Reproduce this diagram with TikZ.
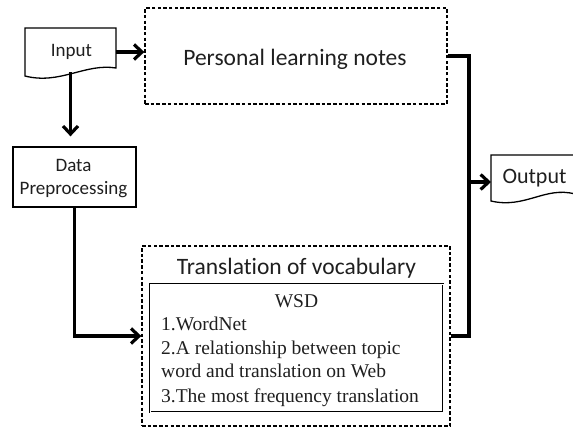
\documentclass[tikz,border=0pt]{standalone}
\usepackage{fontspec}
\setmainfont{Carlito}[Ligatures=NoCommon]
\newfontfamily\listfont{Liberation Serif}
\usetikzlibrary{arrows.meta,calc}

\tikzset{
  x=1pt, y=-1pt,
  boxline/.style={line width=1.3pt, draw=black},
  dashbox/.style={line width=1.3pt, draw=black, dash pattern=on 3.5pt off 2.2pt},
  conn/.style={line width=3.6pt, draw=black, line join=miter,
    -{Straight Barb[length=8pt,width=15pt,line width=3.2pt]}},
  plainconn/.style={line width=3.6pt, draw=black, line join=miter},
  label/.style={text=black!88, inner sep=0pt},
}

\begin{document}
\begin{tikzpicture}
\useasboundingbox (0,0) rectangle (573,429);

% document-shaped input box
\draw[boxline] (25,28) -- (116,28) -- (116,68)
  .. controls (85,63) and (60,85) .. (25,76) -- cycle;
\node[minimum width=91pt, minimum height=44pt, inner sep=0pt] (input) at (70.5,50) {};
\node[label, anchor=base, font=\fontsize{19}{22}\selectfont] (inputtext) at (71.5,56) {Input};

% personal notes box
\node[dashbox, minimum width=302pt, minimum height=96pt, inner sep=0pt] (personal) at (296,56) {};
\node[label, anchor=base, font=\fontsize{23.5}{26}\selectfont] (personaltext) at (295,65) {Personal learning notes};

% preprocessing box
\node[boxline, minimum width=123pt, minimum height=60pt, inner sep=0pt] (data) at (74.5,177) {};
\node[label, anchor=base, font=\fontsize{19}{23}\selectfont] (datatext1) at (73.5,171) {Data};
\node[label, anchor=base, font=\fontsize{19}{23}\selectfont] (datatext2) at (73.5,194) {Preprocessing};

% translation box with nested WSD panel
\node[dashbox, minimum width=308pt, minimum height=180pt, inner sep=0pt] (trans) at (296,336) {};
\node[label, anchor=base, font=\fontsize{23.5}{26}\selectfont] (transtitle) at (296.5,274) {Translation of vocabulary};
\node[draw=black, line width=0.8pt, double, double distance=0.8pt,
  minimum width=293pt, minimum height=128pt, inner sep=0pt] (wsdbox) at (296.5,348) {};
\begin{scope}[every node/.style={label, font=\listfont\fontsize{19.5}{22}\selectfont}]
  \node[anchor=base] (wsd) at (296.5,307) {WSD};
  \node[anchor=base west] (l1) at (161,330) {1.WordNet};
  \node[anchor=base west] (l2) at (161,354) {2.A relationship between topic};
  \node[anchor=base west] (l3) at (161,377) {word and translation on Web};
  \node[anchor=base west] (l4) at (161,402) {3.The most frequency translation};
\end{scope}

% document-shaped output box
\draw[boxline] (575,194) .. controls (545,186) and (525,209) .. (491,201)
  -- (491,155) -- (575,155);
\node[minimum width=84pt, minimum height=40pt, inner sep=0pt] (output) at (533,177) {};
\node[label, anchor=base, font=\fontsize{22}{25}\selectfont] (outputtext) at (534.5,183) {Output};
\coordinate (outin) at (491,182);

% connectors
\draw[conn] (input.east |- 0,52) -- (personal.west |- 0,52);
\draw[conn] (input.south) -- ++(0,6) -- ([yshift=10pt]input.south |- data.north);
\draw[conn] (data.south) -- (data.south |- trans.west) -- (trans.west);
\coordinate (bus) at (469,0);
\draw[plainconn] (personal.east) -- (bus |- personal.east) -- (bus |- trans.east) -- (trans.east);
\draw[conn] (bus |- outin) -- (outin);
\end{tikzpicture}
\end{document}
